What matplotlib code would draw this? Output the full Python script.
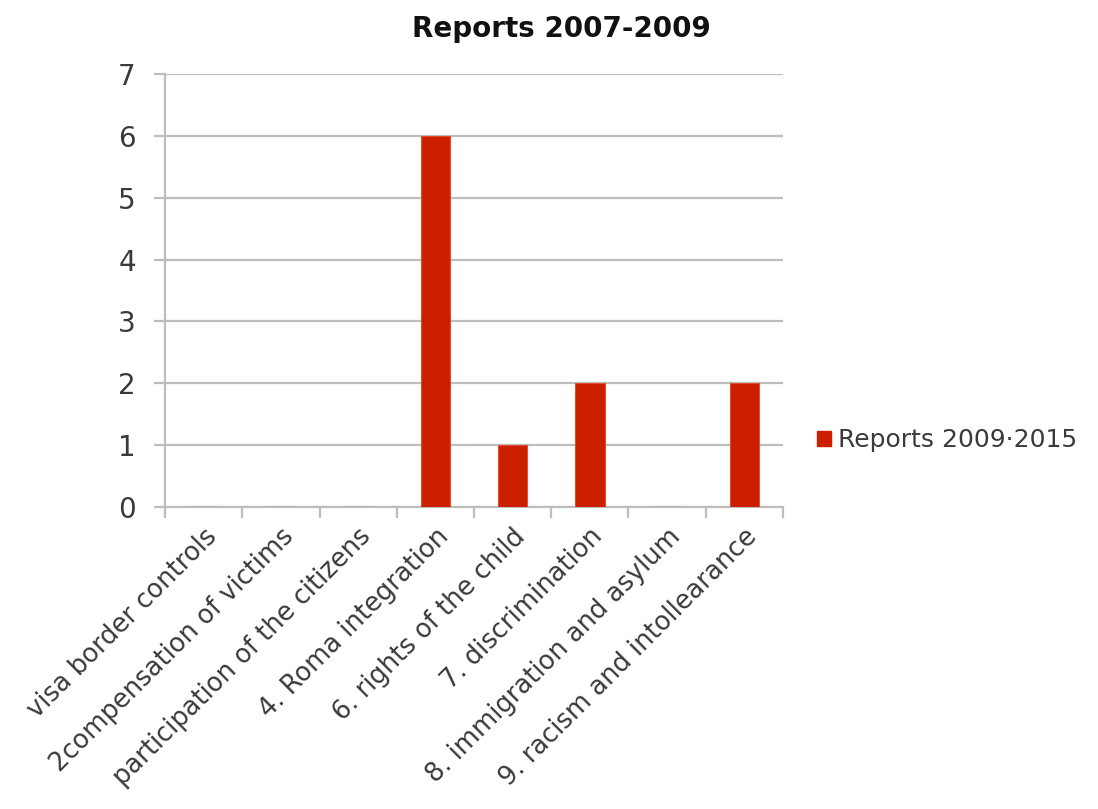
import numpy as np
import matplotlib.pyplot as plt
from matplotlib.patches import Patch

# data
categories = ["visa border controls", "2compensation of victims",
              "participation of the citizens", "4. Roma integration",
              "6. rights of the child", "7. discrimination",
              "8. immigration and asylum", "9. racism and intollearance"]
reports_2009_2015 = [0, 0, 0, 6, 1, 2, 0, 2]
y_ticks = [0, 1, 2, 3, 4, 5, 6, 7]

plt.rcParams['font.family'] = ['DejaVu Sans']
grey = '#BDBDBD'
red = '#CC1F00'
txt = '#3A3A3A'

fig = plt.figure(figsize=(10.98, 8.09), dpi=100)
ax = fig.add_axes([0.1503, 0.3733, 0.5628, 0.5352])

x = np.arange(len(categories))
ax.bar(x, reports_2009_2015, width=0.38, color=red, edgecolor='#E05030', linewidth=0.8, zorder=3)

ax.set_xlim(-0.5, len(categories) - 0.5)
ax.set_ylim(0, 7)
ax.set_yticks(y_ticks)
ax.set_yticklabels([str(v) for v in y_ticks], fontsize=20, color=txt)
ax.yaxis.grid(True, color=grey, linewidth=1.6, zorder=0)
ax.tick_params(axis='y', length=8, width=1.6, color=grey, pad=13)

# ticks sit on the category boundaries, labels at the category centres
ax.set_xticks(np.arange(len(categories) + 1) - 0.5)
ax.set_xticklabels([])
ax.set_xticks(x, minor=True)
ax.set_xticklabels(categories, minor=True, rotation=45, ha='right', va='top',
                   rotation_mode='anchor', fontsize=18.5, color=txt)
ax.tick_params(axis='x', which='major', length=8, width=1.6, color=grey)
ax.tick_params(axis='x', which='minor', length=0, pad=12)

for s in ['top', 'right']:
    ax.spines[s].set_visible(False)
for s in ['left', 'bottom']:
    ax.spines[s].set_color(grey)
    ax.spines[s].set_linewidth(1.6)

fig.text(0.511, 0.964, "Reports 2007-2009", ha='center', va='center',
         fontsize=20, fontweight='bold', color='#111111')

handles = [Patch(facecolor=red, edgecolor=red)]
fig.legend(handles, ["Reports 2009·2015"], loc='center left',
           bbox_to_anchor=(0.744, 0.456), frameon=False, fontsize=18,
           handlelength=0.55, handleheight=0.55, handletextpad=0.3,
           borderpad=0, borderaxespad=0, labelcolor=txt)

fig.savefig('out.png', dpi=100)
